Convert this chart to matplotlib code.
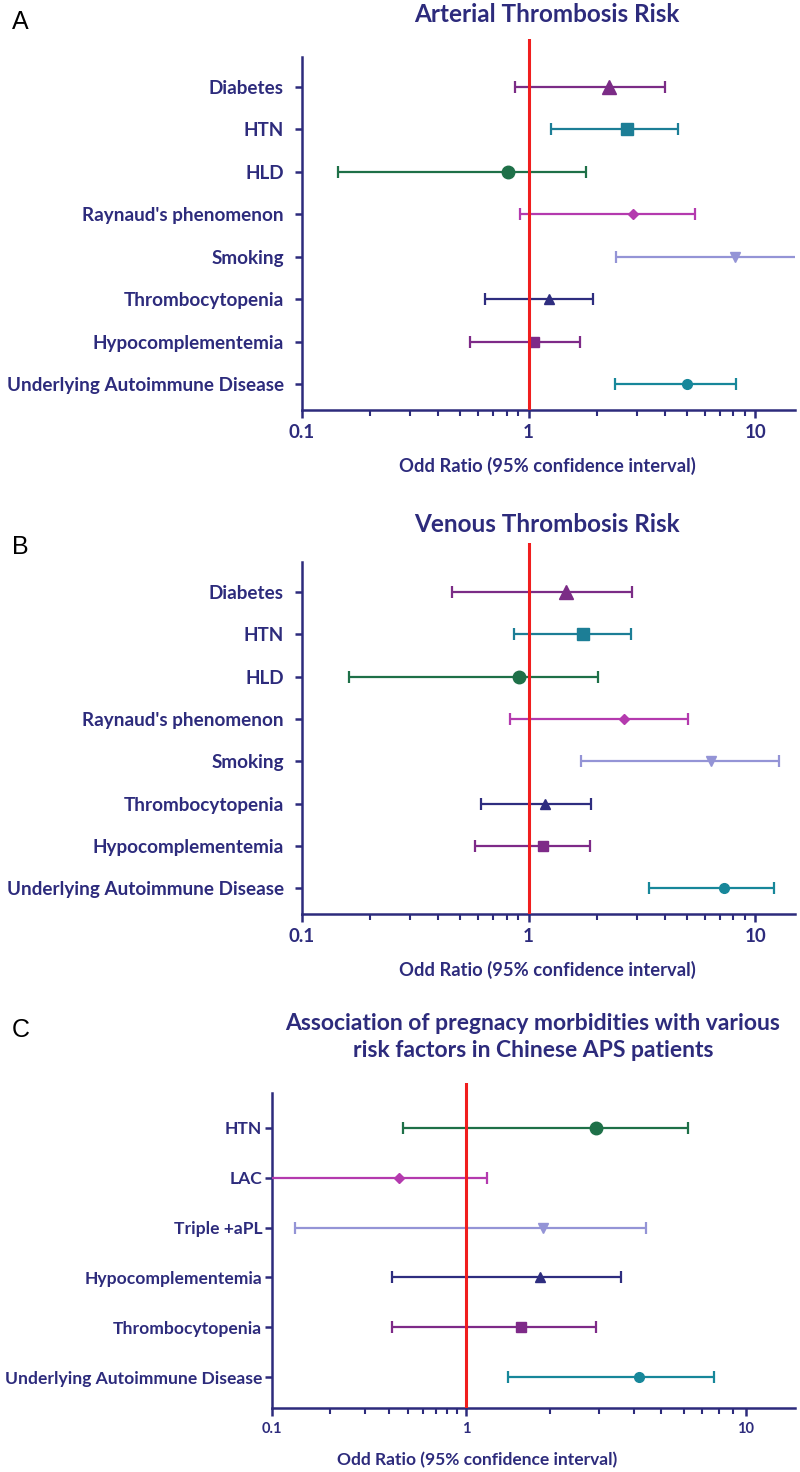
import numpy as np
import matplotlib
matplotlib.use('Agg')
import matplotlib.pyplot as plt

plt.rcParams['font.family'] = ['Lato', 'DejaVu Sans']

# ---- data ----
thr_labels = ['Diabetes', 'HTN', 'HLD', "Raynaud's phenomenon", 'Smoking',
              'Thrombocytopenia', 'Hypocomplementemia', 'Underlying Autoimmune Disease']

art_or = [2.26, 2.73, 0.81, 2.90, 8.17, 1.23, 1.06, 5.00]
art_lo = [0.87, 1.26, 0.144, 0.92, 2.42, 0.645, 0.553, 2.40]
art_hi = [4.00, 4.56, 1.79, 5.42, 16.0, 1.92, 1.69, 8.20]

ven_or = [1.47, 1.74, 0.91, 2.64, 6.37, 1.18, 1.16, 7.29]
ven_lo = [0.459, 0.86, 0.161, 0.83, 1.70, 0.617, 0.58, 3.40]
ven_hi = [2.86, 2.84, 2.02, 5.07, 12.7, 1.88, 1.86, 12.1]

preg_labels = ['HTN', 'LAC', 'Triple +aPL', 'Hypocomplementemia',
               'Thrombocytopenia', 'Underlying Autoimmune Disease']
preg_or = [2.92, 0.452, 1.89, 1.84, 1.58, 4.14]
preg_lo = [0.475, 0.09, 0.131, 0.417, 0.418, 1.41]
preg_hi = [6.24, 1.19, 4.39, 3.57, 2.92, 7.72]

# ---- styles ----
NAVY = '#2D2B7C'
RED = '#F01E1E'
thr_colors = ['#7B2C86', '#1C7E96', '#1E7048', '#B43AAE', '#9494D6',
              '#2E2D7F', '#7E2A88', '#17879A']
thr_markers = ['^', 's', 'o', 'D', 'v', '^', 's', 'o']
thr_msize = [10, 9, 9, 5, 7, 7, 7.5, 7]

preg_colors = ['#1E7048', '#B43AAE', '#9494D6', '#2E2D7F', '#7E2A88', '#17879A']
preg_markers = ['o', 'D', 'v', '^', 's', 'o']
preg_msize = [9, 5, 7, 7, 7.5, 7]

W, H = 800, 1472
fig = plt.figure(figsize=(W / 100, H / 100), dpi=100)


def box(left, right, top, bottom):
    return [left / W, 1 - bottom / H, (right - left) / W, (bottom - top) / H]


def forest(ax, labels, orv, lo, hi, colors, markers, msize, ylim, spine_top,
           label_size, tick_size, label_pad=8):
    n = len(labels)
    for i in range(n):
        ax.errorbar(orv[i], i,
                    xerr=[[orv[i] - lo[i]], [hi[i] - orv[i]]],
                    fmt=markers[i], color=colors[i], ms=msize[i],
                    elinewidth=1.6, capsize=4.5, capthick=1.6, zorder=3)
    ax.axvline(1, color=RED, lw=2.2, zorder=4)
    ax.set_ylim(*ylim)
    ax.set_yticks(range(n))
    ax.set_yticklabels(labels, fontsize=label_size, fontweight='bold', color=NAVY)
    for s in ['top', 'right']:
        ax.spines[s].set_visible(False)
    for s in ['left', 'bottom']:
        ax.spines[s].set_color(NAVY)
        ax.spines[s].set_linewidth(1.8)
    ax.spines['left'].set_bounds(ylim[0], spine_top)
    ax.set_xlim(0.1, 15)
    ax.set_xticks([0.1, 1, 10])
    ax.set_xticklabels(['0.1', '1', '10'], fontsize=tick_size,
                       fontweight='bold', color=NAVY)
    minor = (np.arange(2, 10)[None, :] * np.array([0.1, 1])[:, None]).ravel()
    ax.set_xticks(minor, minor=True)
    ax.set_xticklabels([], minor=True)
    ax.tick_params(axis='y', length=5, width=1.8, color=NAVY, pad=label_pad)
    ax.tick_params(axis='x', which='major', length=6, width=1.8, color=NAVY, pad=4)
    ax.tick_params(axis='x', which='minor', length=4, width=1.5, color=NAVY)


# ---- panel A ----
axA = fig.add_axes(box(302, 795, 39, 410))
axA.set_xscale('log')
forest(axA, thr_labels, art_or, art_lo, art_hi, thr_colors, thr_markers,
       thr_msize, (7.61, -1.13), -0.71, 13.6, 13.5)
fig.text(547 / W, 1 - 15 / H, 'Arterial Thrombosis Risk', ha='center',
         va='center', fontsize=17.5, fontweight='bold', color=NAVY)
fig.text(547 / W, 1 - 466 / H, 'Odd Ratio (95% confidence interval)',
         ha='center', va='center', fontsize=13.2, fontweight='bold', color=NAVY)
fig.text(12 / W, 1 - 22 / H, 'A', ha='left', va='center', fontsize=18,
         family='Liberation Sans', color='black')

# ---- panel B ----
axB = fig.add_axes(box(302, 795, 543, 914))
axB.set_xscale('log')
forest(axB, thr_labels, ven_or, ven_lo, ven_hi, thr_colors, thr_markers,
       thr_msize, (7.61, -1.16), -0.71, 13.6, 13.5)
fig.text(547 / W, 1 - 525 / H, 'Venous Thrombosis Risk', ha='center',
         va='center', fontsize=17.5, fontweight='bold', color=NAVY)
fig.text(547 / W, 1 - 970 / H, 'Odd Ratio (95% confidence interval)',
         ha='center', va='center', fontsize=13.2, fontweight='bold', color=NAVY)
fig.text(12 / W, 1 - 547 / H, 'B', ha='left', va='center', fontsize=18,
         family='Liberation Sans', color='black')

# ---- panel C (decade below 1 is compressed in the original) ----
K = 194 / 280


def fwd(x):
    x = np.clip(x, 1e-6, None)
    l = np.log10(x)
    return np.where(l < 0, l * K, l)


def inv(y):
    return np.where(y < 0, 10 ** (y / K), 10 ** y)


axC = fig.add_axes(box(272, 795, 1083, 1408))
axC.set_xscale('function', functions=(fwd, inv))
forest(axC, preg_labels, preg_or, preg_lo, preg_hi, preg_colors, preg_markers,
       preg_msize, (5.62, -0.90), -0.70, 12.6, 10.5, label_pad=2)
fig.text(533 / W, 1 - 1037 / H,
         'Association of pregnacy morbidities with various\nrisk factors in Chinese APS patients',
         ha='center', va='center', fontsize=16.5, fontweight='bold', color=NAVY,
         linespacing=1.3)
fig.text(477 / W, 1 - 1460 / H, 'Odd Ratio (95% confidence interval)',
         ha='center', va='center', fontsize=12.5, fontweight='bold', color=NAVY)
fig.text(12 / W, 1 - 1030 / H, 'C', ha='left', va='center', fontsize=18,
         family='Liberation Sans', color='black')

fig.savefig('out.png', dpi=100)
